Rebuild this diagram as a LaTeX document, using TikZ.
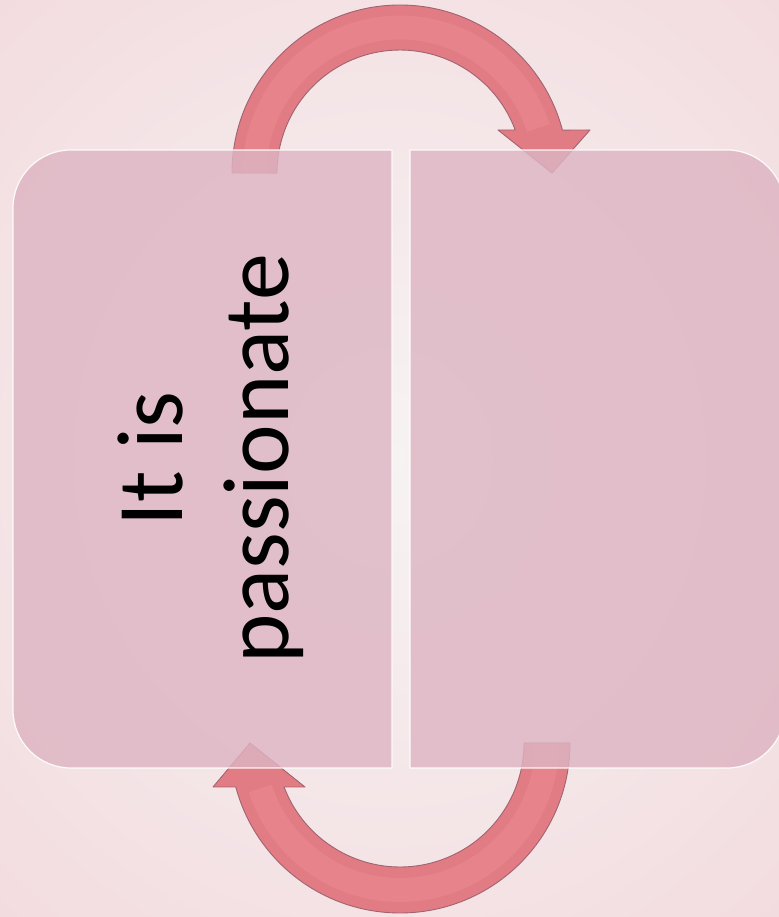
\documentclass[tikz,border=0pt]{standalone}
\usepackage{fontspec}
\setmainfont{Carlito}
\definecolor{bgin}{RGB}{247,243,243}
\definecolor{bgout}{RGB}{238,196,203}
\definecolor{panelfill}{RGB}{221,181,195}
\definecolor{arrowfill}{RGB}{226,124,132}
\definecolor{arrowedge}{RGB}{160,100,112}
\definecolor{arrowhi}{RGB}{240,142,148}
\tikzset{
  arrowshape/.style={fill=arrowfill, draw=arrowedge, line width=0.9pt, line join=round},
  arrowglow/.style={draw=arrowhi, line width=24pt, opacity=0.4, line cap=butt},
  panelshape/.style={fill=panelfill, fill opacity=0.82, draw=white, draw opacity=0.9, line width=1.2pt},
  txt/.style={font=\fontsize{94}{110}\selectfont, text=black, rotate=90, inner sep=0pt}
}
\begin{document}
\begin{tikzpicture}[x=1pt,y=1pt]
\useasboundingbox (0,0) rectangle (778,917);
\fill[inner color=bgin, outer color=bgout] (-800,-800) rectangle (1578,1717);
% top circular arrow
\path[arrowshape] (232,744) arc[start angle=180,end angle=14.8,radius=168]
  -- (590,787) -- (552,744) -- (498,787) -- (515.2,787)
  arc[start angle=20.5,end angle=180,radius=123] -- cycle;
\draw[arrowglow] (254.5,744) arc[start angle=180,end angle=18,radius=145.5];
% bottom circular arrow
\path[arrowshape] (570,174) arc[start angle=0,end angle=-165,radius=170]
  -- (213,130) -- (250,174) -- (305,130) -- (284.1,130)
  arc[start angle=-159.2,end angle=0,radius=124] -- cycle;
\draw[arrowglow] (547,174) arc[start angle=0,end angle=-162,radius=147];
% panels
\path[panelshape] (392,149) -- (392,767) -- (71,767)
  arc[start angle=90,end angle=180,radius=58] -- (13,207)
  arc[start angle=180,end angle=270,radius=58] -- cycle;
\path[panelshape] (410,149) -- (410,767) -- (727,767)
  arc[start angle=90,end angle=0,radius=58] -- (785,207)
  arc[start angle=0,end angle=-90,radius=58] -- cycle;
% text
\node[txt, anchor=base] (line1) at (182,458) {It is};
\node[txt, anchor=base] (line2) at (288,458) {passionate};
\end{tikzpicture}
\end{document}
